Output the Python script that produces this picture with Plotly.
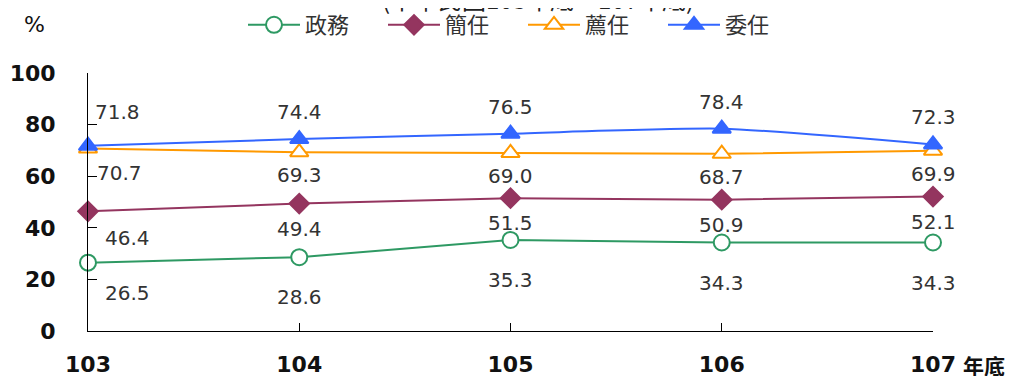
import plotly.graph_objects as go

# ---- data ----
years = [103, 104, 105, 106, 107]
year_labels = ["103", "104", "105", "106", "107"]
series_names = ["政務", "簡任", "薦任", "委任"]
zhengwu = [26.5, 28.6, 35.3, 34.3, 34.3]
jianren = [46.4, 49.4, 51.5, 50.9, 52.1]
jianren_b = [70.7, 69.3, 69.0, 68.7, 69.9]
weiren = [71.8, 74.4, 76.5, 78.4, 72.3]
y_ticks = [0, 20, 40, 60, 80, 100]
title_text = "(中華民國103年底～107年底)"
unit_text = "%"
x_suffix = "年底"

values = [zhengwu, jianren, jianren_b, weiren]

# ---- styles ----
styles = [
    dict(color="#2E9963", symbol="circle", fill="white", size=16, shape="linear",
         yshift=-40, first=(39, -30)),
    dict(color="#94355F", symbol="diamond", fill="#94355F", size=15, shape="linear",
         yshift=-25, first=(39, -27)),
    dict(color="#FF9900", symbol="triangle-up", fill="white", size=16, shape="linear",
         yshift=-23, first=(31, -24)),
    dict(color="#3366FF", symbol="triangle-up", fill="#3366FF", size=16, shape="spline",
         yshift=27, first=(29, 34)),
]

FONT = "DejaVu Sans, Noto Sans CJK TC"
CJK = "Noto Sans CJK TC, DejaVu Sans"

# page body has an 8px margin; figure sized to fill the rest of the window
W, H = 1009, 368
ML, MR, MT, MB = 80, 84, 65, 45
PW, PH = W - ML - MR, H - MT - MB


def px_to_paper(px, py):
    return (px - ML) / PW, (H - MB - py) / PH


fig = go.Figure()
annotations = []
for name, vals, st in zip(series_names, values, styles):
    fig.add_trace(go.Scatter(
        x=years, y=vals, name=name, mode="lines+markers",
        line=dict(color=st["color"], width=2, shape=st["shape"], smoothing=0.6),
        marker=dict(symbol=st["symbol"], size=st["size"], color=st["fill"],
                    line=dict(color=st["color"], width=2)),
        cliponaxis=False,
    ))
    for i, (xv, yv) in enumerate(zip(years, vals)):
        if i == 0:
            xs, ys = st["first"]
        else:
            xs, ys = 0, st["yshift"]
        annotations.append(dict(
            x=xv, y=yv, xref="x", yref="y", text=f"{yv:.1f}", showarrow=False,
            xshift=xs, yshift=ys, font=dict(family=FONT, size=20, color="#333333"),
        ))

annotations.append(dict(
    x=years[-1], y=0, xref="x", yref="paper", text=x_suffix, showarrow=False,
    xanchor="left", yanchor="middle", xshift=28, yshift=-34,
    font=dict(family=CJK, size=21, color="#111111", weight="bold"),
))
ux, uy = px_to_paper(27, 17)
annotations.append(dict(
    x=ux, y=uy, xref="paper", yref="paper", text=unit_text,
    showarrow=False, xanchor="center", yanchor="middle",
    font=dict(family=FONT, size=22, color="#111111"),
))
tx, ty = px_to_paper(530, 10)
annotations.append(dict(
    x=tx, y=ty, xref="paper", yref="paper", text=title_text,
    showarrow=False, xanchor="center", yanchor="bottom",
    font=dict(family=CJK, size=24, color="#222222"),
))

lx, ly = px_to_paper(235, 17)
fig.update_layout(
    width=W, height=H,
    margin=dict(l=ML, r=MR, t=MT, b=MB, autoexpand=False),
    paper_bgcolor="white", plot_bgcolor="white",
    font=dict(family=FONT, color="#333333"),
    showlegend=True,
    legend=dict(
        orientation="h", xref="paper", yref="paper",
        x=lx, y=ly, xanchor="left", yanchor="middle",
        font=dict(family=CJK, size=22, color="#333333"),
        itemwidth=52,
        entrywidth=73, entrywidthmode="pixels",
        bgcolor="rgba(0,0,0,0)",
    ),
    annotations=annotations,
    xaxis=dict(
        range=[years[0], years[-1]], tickvals=years, ticktext=year_labels,
        showline=True, linecolor="black", linewidth=1,
        ticks="inside", ticklen=8, tickcolor="black",
        showgrid=False, zeroline=False, automargin=False,
        tickfont=dict(family=FONT, size=22, color="#111111", weight="bold"),
        ticklabelstandoff=14,
    ),
    yaxis=dict(
        range=[0, 100], tickvals=y_ticks,
        showline=True, linecolor="black", linewidth=1,
        ticks="inside", ticklen=9, tickcolor="black",
        showgrid=False, zeroline=False, automargin=False,
        tickfont=dict(family=FONT, size=22, color="#111111", weight="bold"),
        ticklabelstandoff=27,
    ),
)

fig.write_html("out.html")
